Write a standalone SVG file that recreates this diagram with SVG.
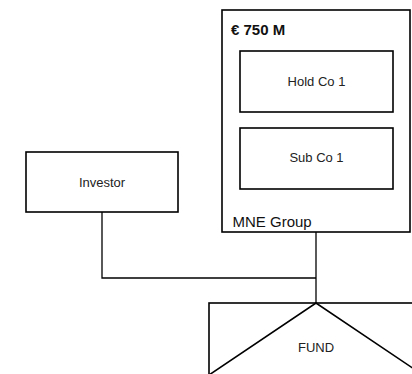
<svg xmlns="http://www.w3.org/2000/svg" width="412" height="374" viewBox="0 0 412 374">
  <style>
    .box { fill: #fff; stroke: #000; stroke-width: 1.6; }
    .wire { fill: none; stroke: #000; stroke-width: 1.3; }
    .lbl { font-family: "Liberation Sans", Arial, sans-serif; font-size: 13px; fill: #222; text-anchor: middle; }
    .cap { font-family: "Liberation Sans", Arial, sans-serif; font-size: 15px; fill: #111; }
  </style>
  <rect width="412" height="374" fill="#fff"/>

  <!-- connectors: Investor and MNE Group both feed the fund -->
  <g id="connectors">
    <polyline class="wire" points="102,212 102,278 316,278"/>
    <line class="wire" x1="316" y1="232" x2="316" y2="303"/>
  </g>

  <g id="mne-group">
    <rect class="box" x="222" y="10" width="188" height="222"/>
    <text class="cap" x="231" y="35" font-weight="bold" font-size="15px">€ 750 M</text>
    <text class="cap" x="232.5" y="227">MNE Group</text>
  </g>

  <g id="hold-co-1">
    <rect class="box" x="240" y="51" width="153" height="61"/>
    <text class="lbl" x="316.5" y="86">Hold Co 1</text>
  </g>

  <g id="sub-co-1">
    <rect class="box" x="240" y="128" width="153" height="61"/>
    <text class="lbl" x="316.5" y="162">Sub Co 1</text>
  </g>

  <g id="investor">
    <rect class="box" x="26" y="152" width="152" height="60"/>
    <text class="lbl" x="102" y="186.5">Investor</text>
  </g>

  <g id="fund">
    <rect class="box" x="209" y="303" width="214" height="80"/>
    <polyline class="box" fill="none" points="209,375 316,303 423,375"/>
    <text class="lbl" x="316" y="352">FUND</text>
  </g>
</svg>
